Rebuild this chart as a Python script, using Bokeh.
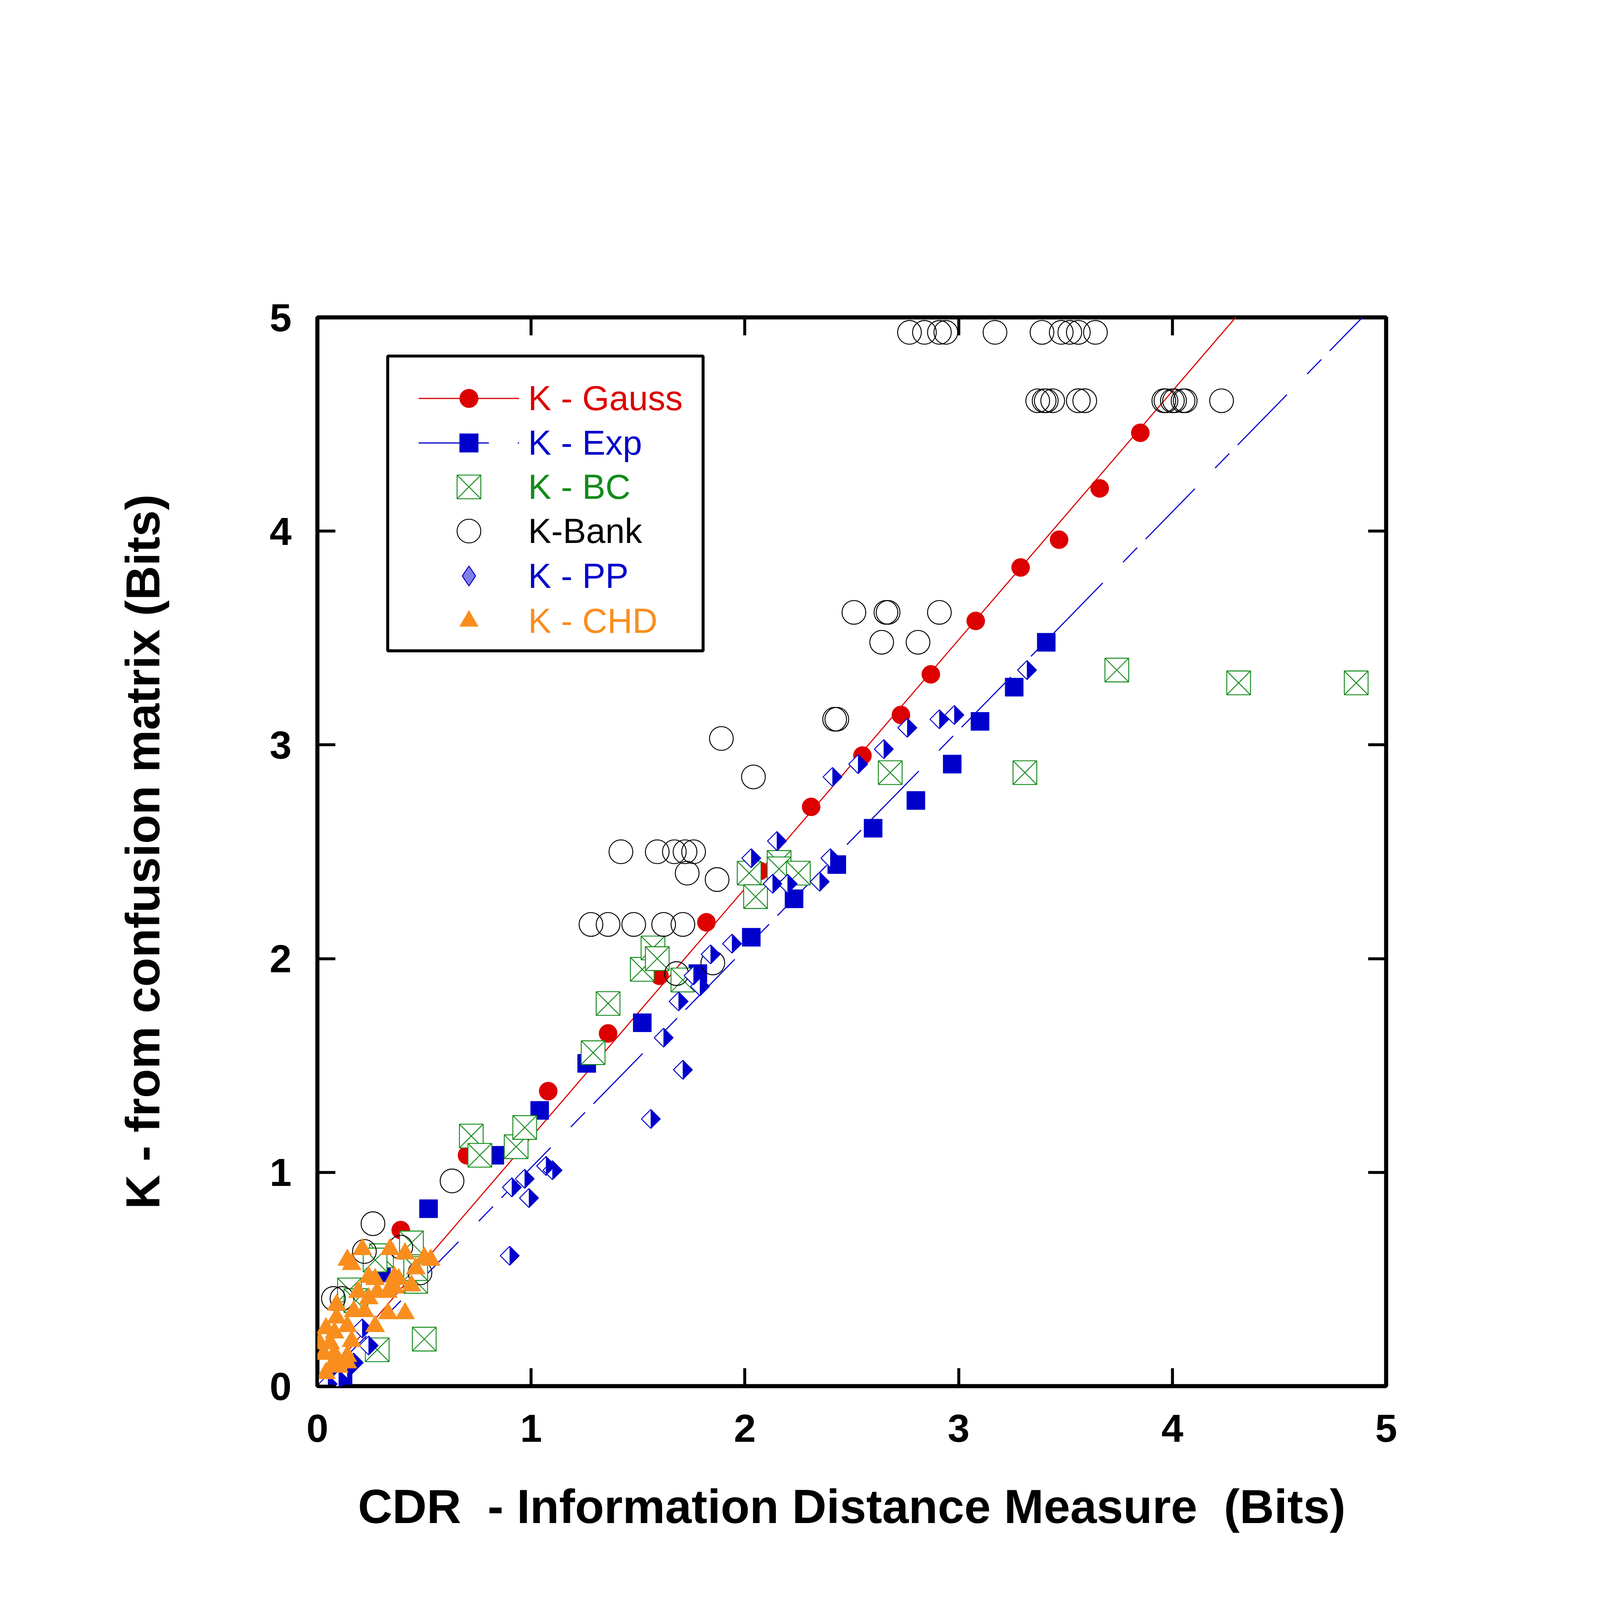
import numpy as np
from bokeh.plotting import figure
from bokeh.models import Range1d, LinearAxis, FixedTicker, Legend, LegendItem, BoxAnnotation
from bokeh.embed import file_html
from bokeh.resources import INLINE

# ---------------- data ----------------
tick_values = [0, 1, 2, 3, 4, 5]
x_title = "CDR\u00a0 - Information Distance Measure\u00a0 (Bits)"
y_title = "K - from confusion matrix (Bits)"
series_names = ["K - Gauss", "K - Exp", "K - BC", "K-Bank", "K - PP", "K - CHD"]

gauss_x = [0.39, 0.70, 1.08, 1.36, 1.60, 1.82, 2.07, 2.31, 2.55, 2.73, 2.87, 3.08, 3.29, 3.47, 3.66, 3.85]
gauss_y = [0.73, 1.08, 1.38, 1.65, 1.92, 2.17, 2.41, 2.71, 2.95, 3.14, 3.33, 3.58, 3.83, 3.96, 4.20, 4.46]

exp_x = [0.06, 0.12, 0.30, 0.52, 0.83, 1.04, 1.26, 1.52, 1.78, 2.03, 2.23, 2.43, 2.60, 2.80, 2.97, 3.10, 3.26, 3.41]
exp_y = [0.02, 0.05, 0.53, 0.83, 1.08, 1.29, 1.51, 1.70, 1.93, 2.10, 2.28, 2.44, 2.61, 2.74, 2.91, 3.11, 3.27, 3.48]

bc_x = [0.02, 0.28, 0.50, 0.15, 0.18, 0.46, 0.46, 0.30, 0.27, 0.44, 0.72, 0.76, 0.93, 0.97,
        1.29, 1.36, 1.52, 1.57, 1.59, 1.71, 2.02, 2.05, 2.16, 2.16, 2.25, 2.68, 3.31, 3.74, 4.31, 4.86]
bc_y = [0.00, 0.17, 0.22, 0.45, 0.40, 0.49, 0.55, 0.61, 0.59, 0.67, 1.17, 1.08, 1.12, 1.21,
        1.56, 1.79, 1.95, 2.05, 2.00, 1.90, 2.40, 2.29, 2.45, 2.42, 2.40, 2.87, 2.87, 3.35, 3.29, 3.29]

bank_x = [2.77, 2.84, 2.91, 2.94, 3.17, 3.39, 3.48, 3.52, 3.56, 3.64,
          3.37, 3.40, 3.41, 3.44, 3.56, 3.59, 3.96, 3.97, 4.00, 4.01, 4.05, 4.06, 4.23,
          2.51, 2.66, 2.67, 2.91, 2.64, 2.81, 2.42, 2.43, 1.89, 2.04,
          1.42, 1.59, 1.67, 1.72, 1.76, 1.73, 1.87,
          1.28, 1.36, 1.48, 1.62, 1.71, 1.68, 1.85,
          0.63, 0.26, 0.22, 0.39, 0.48, 0.075, 0.115]
bank_y = [4.93, 4.93, 4.93, 4.93, 4.93, 4.93, 4.93, 4.93, 4.93, 4.93,
          4.61, 4.61, 4.61, 4.61, 4.61, 4.61, 4.61, 4.61, 4.61, 4.61, 4.61, 4.61, 4.61,
          3.62, 3.62, 3.62, 3.62, 3.48, 3.48, 3.12, 3.12, 3.03, 2.85,
          2.50, 2.50, 2.50, 2.50, 2.50, 2.40, 2.37,
          2.16, 2.16, 2.16, 2.16, 2.16, 1.93, 1.98,
          0.96, 0.76, 0.63, 0.65, 0.53, 0.41, 0.41]

pp_x = [0.05, 0.10, 0.14, 0.17, 0.21, 0.24, 0.90, 0.91, 0.97, 0.99, 1.07, 1.10, 1.56, 1.62, 1.71,
        1.69, 1.76, 1.79, 1.84, 1.94, 2.03, 2.13, 2.15, 2.20, 2.35, 2.40, 2.41, 2.53, 2.65,
        2.76, 2.91, 2.98, 3.32]
pp_y = [0.01, 0.03, 0.08, 0.11, 0.27, 0.19, 0.61, 0.93, 0.97, 0.88, 1.03, 1.01, 1.25, 1.63, 1.48,
        1.80, 1.92, 1.87, 2.02, 2.07, 2.47, 2.35, 2.55, 2.35, 2.36, 2.47, 2.85, 2.91, 2.98,
        3.08, 3.12, 3.14, 3.35]

chd_x = [0.14, 0.16, 0.21, 0.34, 0.41, 0.50, 0.53, 0.46, 0.24, 0.27, 0.36, 0.38, 0.44, 0.19,
         0.28, 0.33, 0.36, 0.24, 0.09, 0.17, 0.22, 0.33, 0.41, 0.09, 0.27, 0.04, 0.08, 0.14,
         0.16, 0.01, 0.06, 0.03, 0.08, 0.14, 0.07, 0.10, 0.04, 0.14]
chd_y = [0.59, 0.57, 0.64, 0.64, 0.62, 0.60, 0.59, 0.55, 0.51, 0.50, 0.51, 0.50, 0.47, 0.44,
         0.44, 0.44, 0.46, 0.41, 0.38, 0.35, 0.35, 0.34, 0.34, 0.32, 0.28, 0.27, 0.25, 0.28,
         0.21, 0.20, 0.20, 0.15, 0.15, 0.14, 0.10, 0.09, 0.06, 0.11]

# ---------------- styling ----------------
K = 0.95   # global pixel scale
RED = "#dd0000"
BLUE = "#0000cc"
GREEN = "#138a1a"
ORANGE = "#f98e1f"
BLACK = "#000000"
FONT = "Liberation Sans"


def px(v):
    return f"{round(v * K)}px"


FRAME = round(2880 * K)
p = figure(frame_width=FRAME, frame_height=FRAME,
           min_border_left=round(855 * K), min_border_top=round(855 * K),
           min_border_right=round(430 * K), min_border_bottom=round(470 * K),
           x_range=Range1d(0, 5), y_range=Range1d(0, 5),
           output_backend="svg", toolbar_location=None,
           x_axis_label=x_title, y_axis_label=y_title)
p.background_fill_color = "white"
p.border_fill_color = "white"
p.grid.visible = False
p.outline_line_color = BLACK
p.outline_line_width = 11 * K

ticker = FixedTicker(ticks=tick_values)


def style_axis(ax, show_labels):
    ax.ticker = ticker
    ax.axis_line_color = None
    ax.major_tick_in = round(48 * K)
    ax.major_tick_out = 0
    ax.major_tick_line_width = 8 * K
    ax.major_tick_line_color = BLACK
    ax.minor_tick_line_color = None
    ax.major_label_text_font = FONT
    ax.major_label_text_font_style = "bold"
    ax.major_label_text_font_size = px(106)
    ax.major_label_text_color = BLACK if show_labels else None
    ax.axis_label_text_font = FONT
    ax.axis_label_text_font_style = "bold"
    ax.axis_label_text_font_size = px(128)
    ax.axis_label_text_color = BLACK


xa = p.xaxis[0]
ya = p.yaxis[0]
style_axis(xa, True)
style_axis(ya, True)
xa.major_label_standoff = round(76 * K)
ya.major_label_standoff = round(70 * K)
xa.axis_label_standoff = round(100 * K)
ya.axis_label_standoff = round(266 * K)

top_ax = LinearAxis()
right_ax = LinearAxis()
style_axis(top_ax, False)
style_axis(right_ax, False)
p.add_layout(top_ax, "above")
p.add_layout(right_ax, "right")

# ---------------- fits (least squares through origin) ----------------
gx, gy = np.array(gauss_x), np.array(gauss_y)
ex, ey = np.array(exp_x), np.array(exp_y)
gauss_slope = np.sum(gx * gy) / np.sum(gx * gx)
exp_slope = np.sum(ex * ey) / np.sum(ex * ex)
fit_x = np.array([p.x_range.start, p.x_range.end])

gauss_line = p.line(fit_x, gauss_slope * fit_x, line_color=RED, line_width=3 * K)
exp_line = p.line(fit_x, exp_slope * fit_x, line_color=BLUE, line_width=3 * K,
                  line_dash=" ".join(str(round(v * K)) for v in (190, 78, 55, 33)))

# ---------------- markers ----------------
LW = 2.5 * K
gauss_r = p.scatter(gauss_x, gauss_y, marker="circle", size=49 * K, fill_color=RED, line_color=RED, line_width=1)
exp_r = p.scatter(exp_x, exp_y, marker="square", size=49 * K, fill_color=BLUE, line_color=BLUE, line_width=1)
bc_r = p.scatter(bc_x, bc_y, marker="square_x", size=64 * K, fill_color="white", line_color=GREEN, line_width=LW)
bank_r = p.scatter(bank_x, bank_y, marker="circle", size=64 * K, fill_color=None, line_color=BLACK, line_width=LW)

# K - PP: glyph used by the legend (drawn tiny, underneath the outline diamonds)
pp_leg = p.scatter(pp_x, pp_y, marker="diamond", size=1, fill_color=BLUE, fill_alpha=0.5,
                   line_color=BLUE, line_width=LW)
px_per_unit = FRAME / (p.x_range.end - p.x_range.start)
half_diag = 25.5 * K / px_per_unit
pp_outline = p.scatter(pp_x, pp_y, marker="square", angle=np.pi / 4, size=36 * K,
                       fill_color="white", line_color=BLUE, line_width=LW)
pp_xs = [[x, x + half_diag, x] for x in pp_x]
pp_ys = [[y + half_diag, y, y - half_diag] for y in pp_y]
p.patches(pp_xs, pp_ys, fill_color=BLUE, line_color=BLUE, line_width=1)

chd_r = p.scatter(chd_x, chd_y, marker="triangle", size=52 * K, fill_color=ORANGE, line_color=ORANGE, line_width=1)

# ---------------- legend ----------------
LEG_X = round(273 * K)             # px from frame left to the glyph column
GLYPH_W = round(272 * K)
rows = [218, 338, 457, 576, 697, 818]   # row centres, px from frame top (unscaled)
glyph_h = [125, 125, 160, 160, 135, 125]
leg_renderers = [[gauss_line, gauss_r], [exp_line, exp_r], [bc_r], [bank_r], [pp_leg], [chd_r]]
leg_colors = [RED, BLUE, GREEN, BLACK, BLUE, ORANGE]

for name, rend, col, row, gh in zip(series_names, leg_renderers, leg_colors, rows, glyph_h):
    ghs = round(gh * K)
    leg = Legend(items=[LegendItem(label=name, renderers=rend)],
                 location=(LEG_X, round(FRAME - row * K - ghs / 2)),
                 glyph_width=GLYPH_W, glyph_height=ghs, label_standoff=round(24 * K),
                 padding=0, margin=0, spacing=0,
                 border_line_color=None, background_fill_alpha=0,
                 label_text_font=FONT, label_text_font_size=px(94), label_text_color=col)
    p.add_layout(leg)

legend_box = BoxAnnotation(left=0.329, right=1.8045, bottom=3.44, top=4.819,
                           fill_alpha=0, line_color=BLACK, line_alpha=1.0, line_width=8 * K)
p.add_layout(legend_box)

open("out.html", "w").write(file_html(p, INLINE))
